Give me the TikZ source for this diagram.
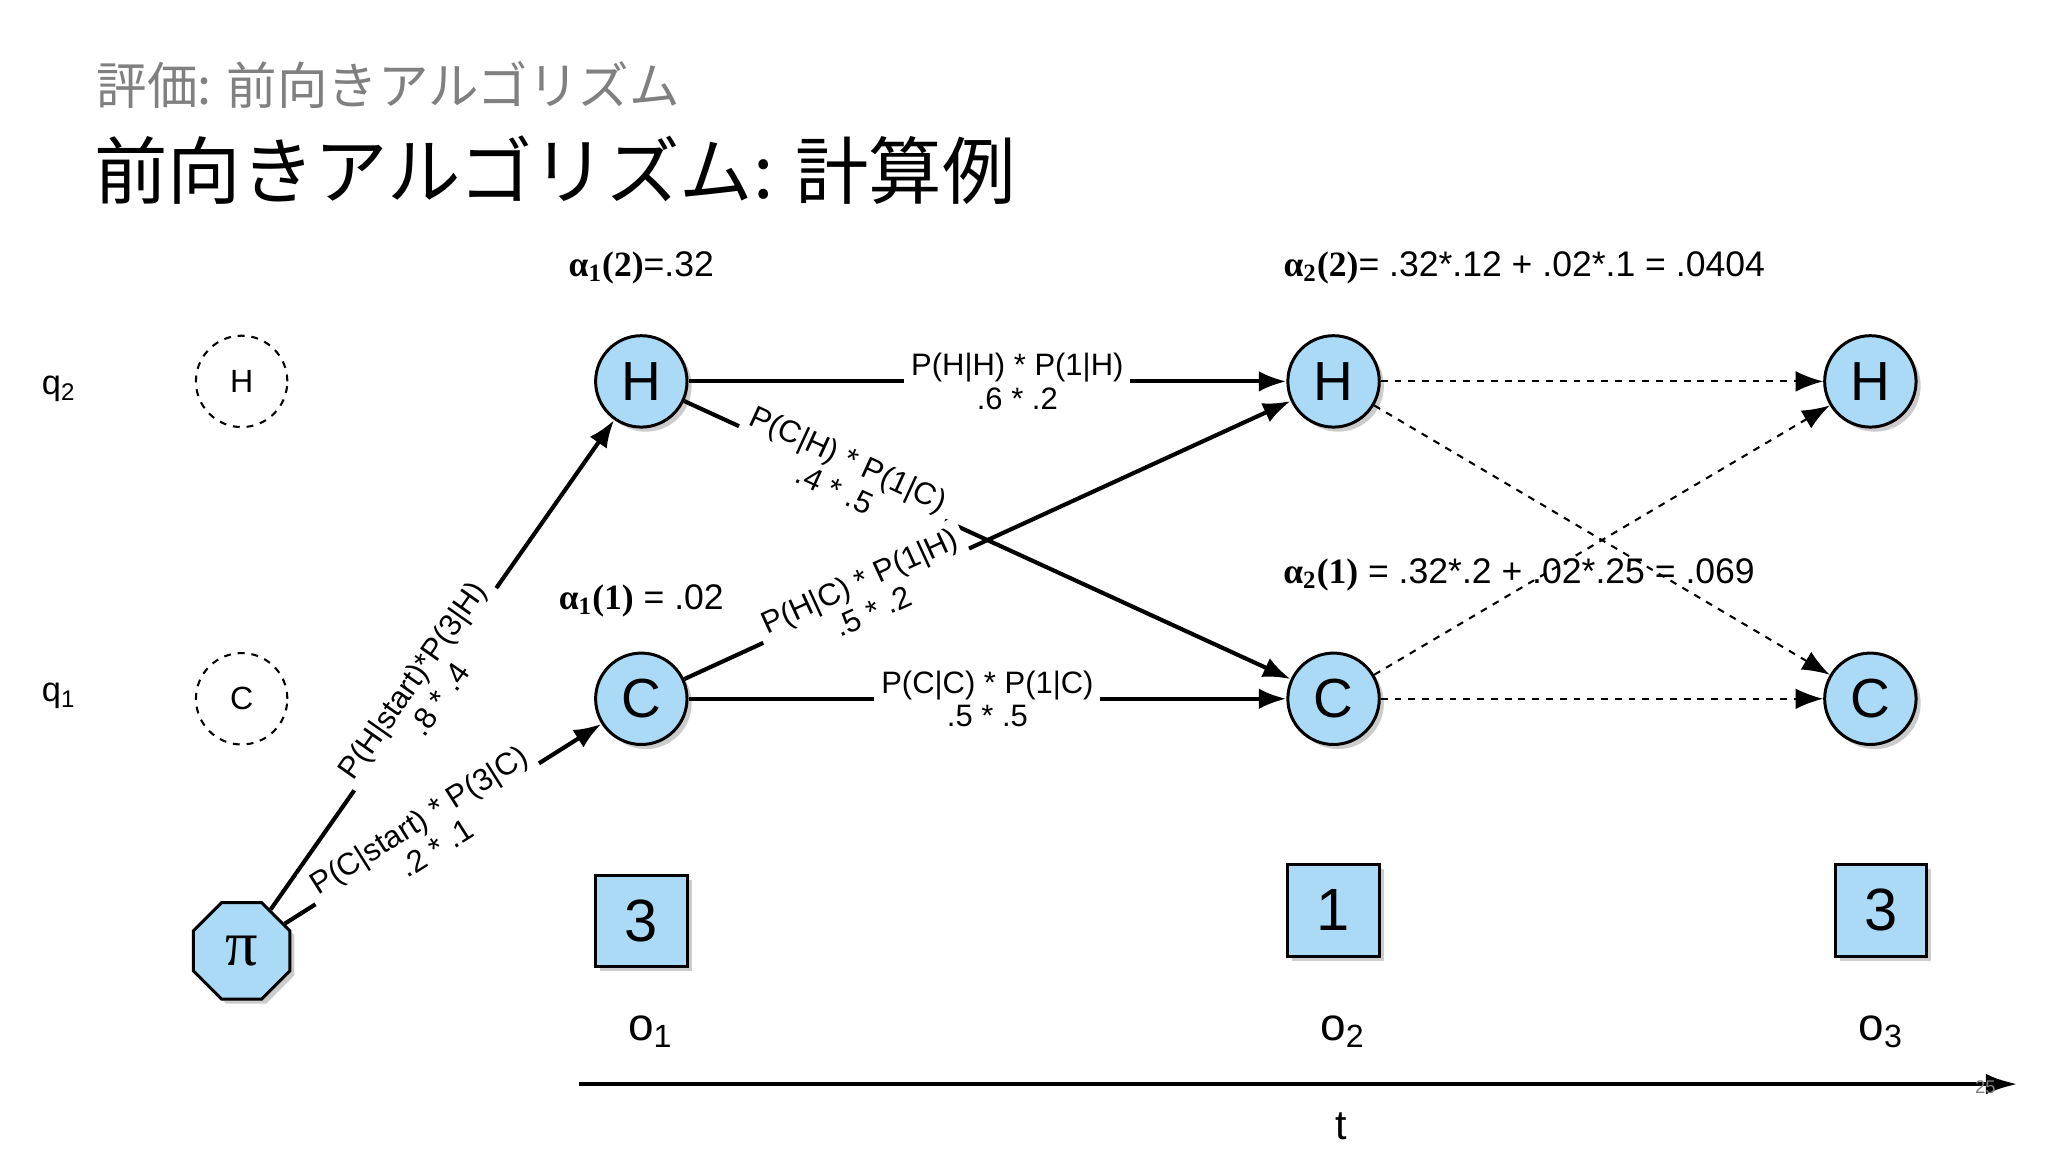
\documentclass[tikz,border=0pt]{standalone}
\usepackage{fontspec}
\setmainfont{Liberation Sans}
\newfontfamily\jp{Noto Sans CJK JP}
\newfontfamily\serifb{Liberation Serif}
\usetikzlibrary{shapes.geometric,arrows.meta,shadows}
\definecolor{nodeblue}{RGB}{170,218,245}
\begin{document}
\begin{tikzpicture}[x=0.02cm,y=-0.02cm,
  st/.style={circle,draw,line width=1.3pt,fill=nodeblue,minimum size=1.4cm,inner sep=0pt,font=\fontsize{24}{24}\selectfont,drop shadow={shadow xshift=2pt,shadow yshift=-2pt,opacity=0.4}},
  ghost/.style={circle,draw,dashed,line width=0.9pt,minimum size=1.4cm,inner sep=0pt,font=\fontsize{14}{14}\selectfont},
  obs/.style={rectangle,draw,line width=1.3pt,fill=nodeblue,minimum size=1.4cm,inner sep=0pt,font=\fontsize{26}{26}\selectfont,drop shadow={shadow xshift=2pt,shadow yshift=-2pt,opacity=0.4}},
  ed/.style={-{Latex[length=12pt,width=9pt]},line width=1.8pt},
  dd/.style={-{Latex[length=12pt,width=9pt]},dashed,line width=0.9pt},
  lab/.style={midway,sloped,fill=white,align=center,font=\fontsize{13.5}{14.5}\selectfont,inner sep=3pt},
  al/.style={anchor=center,font=\fontsize{15.5}{16}\selectfont}]
\useasboundingbox (0,0) rectangle (1568,882);
\node[anchor=west,text=gray,font=\jp\fontsize{22}{22}\selectfont] (sub) at (68,65) {評価: 前向きアルゴリズム};
\node[anchor=west,font=\jp\fontsize{32}{32}\selectfont] (title) at (66,130) {前向きアルゴリズム: 計算例};
\node[font=\fontsize{15}{15}\selectfont] (q2) at (45,298) {q\textsubscript{2}};
\node[font=\fontsize{15}{15}\selectfont] (q1) at (45,533) {q\textsubscript{1}};
\node[ghost] (gH) at (185,292) {H};
\node[ghost] (gC) at (185,535) {C};
\node[st] (H1) at (491,292) {H};
\node[st] (H2) at (1021,292) {H};
\node[st] (H3) at (1432,292) {H};
\node[st] (C1) at (491,535) {C};
\node[st] (C2) at (1021,535) {C};
\node[st] (C3) at (1432,535) {C};
\node[regular polygon,regular polygon sides=8,draw,line width=1.3pt,fill=nodeblue,minimum size=1.6cm,inner sep=0pt,font=\serifb\fontsize{28}{28}\selectfont,drop shadow={shadow xshift=2pt,shadow yshift=-2pt,opacity=0.4}] (pi) at (185,728) {π};
\node[obs] (s1) at (491,705) {3};
\node[obs] (s2) at (1021,697) {1};
\node[obs] (s3) at (1440,697) {3};
\node[font=\fontsize{20}{20}\selectfont] (o1) at (498,790) {o\textsubscript{1}};
\node[font=\fontsize{20}{20}\selectfont] (o2) at (1028,790) {o\textsubscript{2}};
\node[font=\fontsize{20}{20}\selectfont] (o3) at (1440,790) {o\textsubscript{3}};
\coordinate (ta) at (443,830);
\coordinate (tb) at (1545,830);
\draw[-{Latex[length=14pt,width=9pt]},line width=2pt] (ta) -- (tb);
\node[font=\fontsize{18}{18}\selectfont] (t) at (1027,862) {t};
\node[font=\fontsize{8}{8}\selectfont,text=gray] (pg) at (1520,832) {25};
\node[al] (a12) at (491,205) {{\serifb\bfseries α\textsubscript{1}(2)}=.32};
\node[al] (a22) at (1167,205) {{\serifb\bfseries α\textsubscript{2}(2)}= .32*.12 + .02*.1 = .0404};
\node[al] (a11) at (491,460) {{\serifb\bfseries α\textsubscript{1}(1)} = .02};
\draw[dd] (H2) -- (H3);
\draw[dd] (H2) -- (C3);
\draw[dd] (C2) -- (H3);
\draw[dd] (C2) -- (C3);
\node[al] (a21) at (1163,440) {{\serifb\bfseries α\textsubscript{2}(1)} = .32*.2 + .02*.25 = .069};
\draw[ed] (pi) -- node[lab,pos=0.45] {P(H|start)*P(3|H)\\.8 * .4} (H1);
\draw[ed] (pi) -- node[lab,pos=0.45] {P(C|start) * P(3|C)\\.2 * .1} (C1);
\draw[ed] (H1) -- node[lab,pos=0.26] {P(C|H) * P(1|C)\\.4 * .5} (C2);
\draw[ed] (C1) -- node[lab,pos=0.3] {P(H|C) * P(1|H)\\.5 * .2} (H2);
\draw[ed] (H1) -- node[lab,pos=0.55] {P(H|H) * P(1|H)\\.6 * .2} (H2);
\draw[ed] (C1) -- node[lab,pos=0.5] {P(C|C) * P(1|C)\\.5 * .5} (C2);
\end{tikzpicture}
\end{document}
